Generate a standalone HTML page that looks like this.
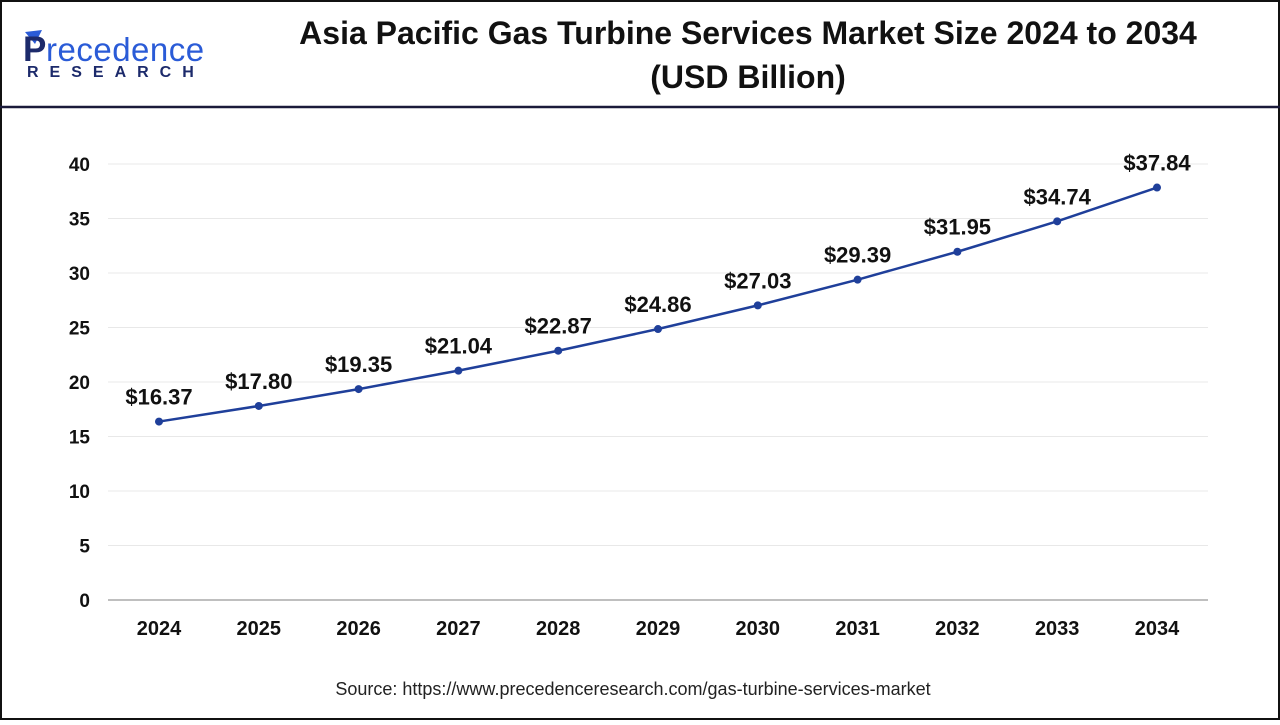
<!DOCTYPE html>
<html><head><meta charset="utf-8"><style>
body{margin:0;width:1280px;height:720px;overflow:hidden;background:#fff;font-family:"Liberation Sans",sans-serif}
</style></head><body>
<svg width="1280" height="720">
<rect x="1" y="1" width="1278" height="718" fill="#fff" stroke="#111" stroke-width="2"/>
<line x1="0" y1="107" x2="1280" y2="107" stroke="#1a1a3a" stroke-width="2.5"/>
<g>
<path d="M25 32 L42 30 L35 44 Z" fill="#2a5bd7"/>
<text x="23" y="61" font-size="35" font-weight="bold" fill="#1c2a6b">P</text>
<text x="46" y="61" font-size="33" fill="#2a5bd7" letter-spacing="0.5">recedence</text>
<text x="27" y="77" font-size="16" font-weight="bold" fill="#1c2a6b" letter-spacing="11">RESEARCH</text>
</g>
<text x="748" y="44" font-size="32" font-weight="bold" text-anchor="middle" fill="#111">Asia Pacific Gas Turbine Services Market Size 2024 to 2034</text>
<text x="748" y="88" font-size="32" font-weight="bold" text-anchor="middle" fill="#111">(USD Billion)</text>
<g id="grid"></g><g id="axes"></g><g id="series"></g>
<text x="633" y="695" font-size="18" text-anchor="middle" fill="#222">Source: https://www.precedenceresearch.com/gas-turbine-services-market</text>
</svg>
<script>
const years=[2024,2025,2026,2027,2028,2029,2030,2031,2032,2033,2034];
const values=[16.37,17.80,19.35,21.04,22.87,24.86,27.03,29.39,31.95,34.74,37.84];
const labels=["$16.37","$17.80","$19.35","$21.04","$22.87","$24.86","$27.03","$29.39","$31.95","$34.74","$37.84"];
const yTicks=[0,5,10,15,20,25,30,35,40];
const NS="http://www.w3.org/2000/svg";
const xS=i=>159+i*99.8;
const yS=v=>600-v*10.9;
function mk(t,a,p,txt){const e=document.createElementNS(NS,t);for(const k in a)e.setAttribute(k,a[k]);if(txt!=null)e.textContent=txt;document.getElementById(p).appendChild(e);return e;}
yTicks.forEach(t=>{
 if(t>0){const g=mk('line',{x1:108,x2:1208,y1:yS(t),y2:yS(t),stroke:'#e8e8e8','stroke-width':1},'grid');
 
 }
 const l=mk('text',{x:90,y:yS(t)+7,'font-size':19,'font-weight':'bold','text-anchor':'end',fill:'#111'},'axes',t);
 
 
});
const ax=mk('line',{x1:108,x2:1208,y1:600,y2:600,stroke:'#aaa','stroke-width':1.5},'axes');


years.forEach((y,i)=>{
 const l=mk('text',{x:xS(i),y:635,'font-size':20,'font-weight':'bold','text-anchor':'middle',fill:'#111'},'axes',y);
 
 
});
const line=mk('polyline',{points:values.map((v,i)=>xS(i)+','+yS(v)).join(' '),fill:'none',stroke:'#1f3f9a','stroke-width':2.5},'series');


values.forEach((v,i)=>{
 const c=mk('circle',{cx:xS(i),cy:yS(v),r:4,fill:'#1f3f9a'},'series');
 
 
 const t=mk('text',{x:xS(i),y:yS(v)-17,'font-size':22,'font-weight':'bold','text-anchor':'middle',fill:'#111'},'series',labels[i]);
 
 
});
</script>
</body></html>
